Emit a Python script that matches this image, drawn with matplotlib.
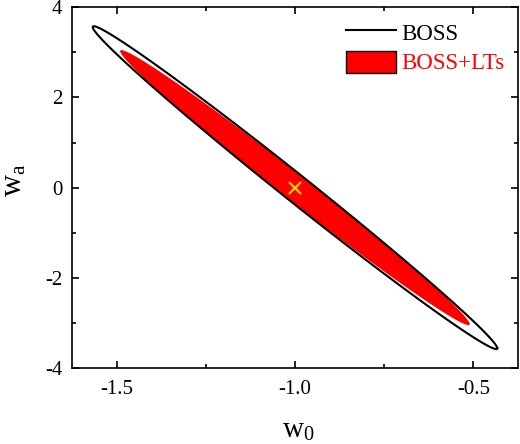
import numpy as np
import matplotlib
matplotlib.use("Agg")
import matplotlib.pyplot as plt
from matplotlib.lines import Line2D
from matplotlib.patches import Patch

# ---- data ----
contour_names = ["BOSS", "BOSS+LTs"]
center_w0 = [-1.0, -1.0]
center_wa = [0.0, 0.0]
sigma_w0 = [0.567, 0.490]
sigma_wa = [3.58, 3.05]
rho = [-0.9944, -0.9928]
fiducial_w0 = -1.0
fiducial_wa = 0.0
x_ticks = [-1.5, -1.0, -0.5]
x_tick_labels = ["-1.5", "-1.0", "-0.5"]
y_ticks = [-4, -2, 0, 2, 4]
y_tick_labels = ["-4", "-2", "0", "2", "4"]

plt.rcParams["font.family"] = ["Liberation Serif", "DejaVu Serif"]
plt.rcParams["mathtext.fontset"] = "stix"


def ellipse(i, n=800):
    t = np.linspace(0, 2 * np.pi, n)
    x = center_w0[i] + sigma_w0[i] * np.cos(t)
    y = center_wa[i] + sigma_wa[i] * (rho[i] * np.cos(t) + np.sqrt(1 - rho[i] ** 2) * np.sin(t))
    return x, y


fig = plt.figure(figsize=(5.2, 4.44), dpi=100)
ax = fig.add_axes([0.1385, 0.1712, 0.8575, 0.8124])

xr, yr = ellipse(1)
ax.fill(xr, yr, color="#ff0000", lw=0, zorder=2)
xb, yb = ellipse(0)
ax.plot(xb, yb, color="black", lw=1.5, zorder=3)
ax.plot([fiducial_w0], [fiducial_wa], marker="x", color="#ffd400",
        markersize=8, mew=1.5, ls="none", zorder=4)

ax.set_xlim(-1.625, -0.375)
ax.set_ylim(-4, 4)
ax.set_xticks(x_ticks)
ax.set_xticklabels(x_tick_labels)
ax.set_yticks(y_ticks)
ax.set_yticklabels(y_tick_labels)
ax.set_xticks([-1.25, -0.75], minor=True)
ax.set_yticks([-3, -1, 1, 3], minor=True)
ax.tick_params(which="both", direction="in", top=True, right=True, width=1.2,
               labelsize=15)
ax.tick_params(axis="x", which="both", pad=9)
ax.tick_params(axis="y", which="both", pad=7)
ax.tick_params(which="major", length=5)
ax.tick_params(which="minor", length=3)
for s in ax.spines.values():
    s.set_linewidth(1.2)

ax.set_xlabel(r"w$_\mathregular{0}$", fontsize=21)
ax.xaxis.set_label_coords(0.507, -0.135)
ax.set_ylabel(r"w$_\mathregular{a}$", fontsize=22)
ax.yaxis.set_label_coords(-0.098, 0.52)

handles = [Line2D([0], [0], color="black", lw=1.5),
           Patch(facecolor="#ff0000", edgecolor="black", lw=1.0)]
leg = ax.legend(handles, contour_names, loc="upper right", frameon=False,
                fontsize=16.5, handlelength=2.2, handleheight=1.1,
                handletextpad=0.2, labelspacing=0.25,
                bbox_to_anchor=(1.0, 1.0), borderaxespad=0.2)
leg.get_texts()[1].set_color("#ff0000")

fig.savefig("out.png", dpi=100)
